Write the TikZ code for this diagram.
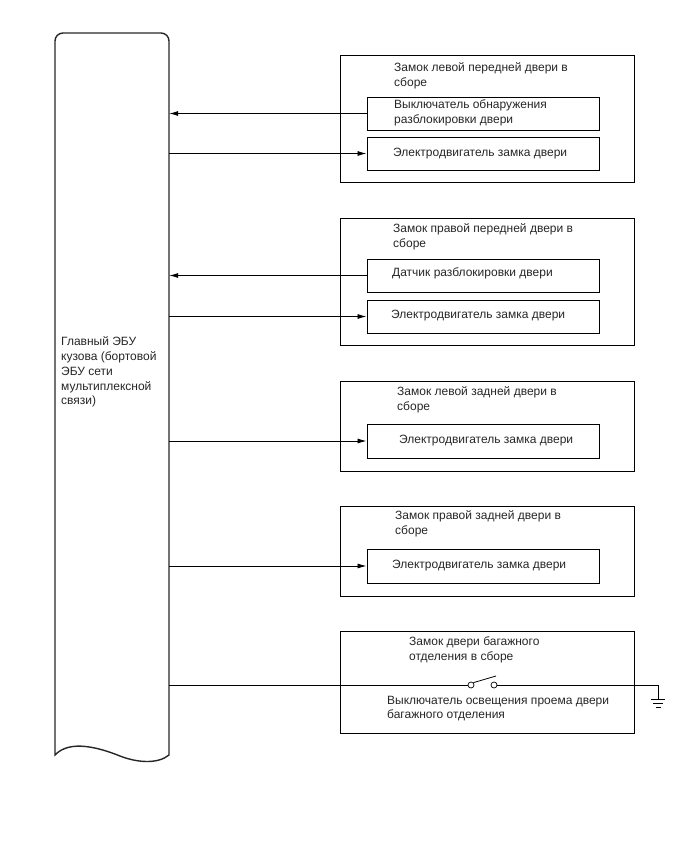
\documentclass[tikz,border=0pt]{standalone}
\usepackage{fontspec}
\setmainfont{Liberation Sans}
\usetikzlibrary{arrows.meta}
\tikzset{
	outerbox/.style={draw,line width=1pt,minimum width=294pt,inner sep=0pt},
	innerbox/.style={draw,line width=1pt,minimum width=232pt,inner sep=0pt},
	label/.style={anchor=west,align=left,inner sep=0pt,font=\fontsize{12}{14.8}\selectfont,text=black!85},
	signal/.style={line width=0.8pt,-{Latex[length=9pt,width=5pt]}},
	wire/.style={line width=0.8pt},
	contact/.style={draw,circle,line width=0.7pt,minimum size=6pt,inner sep=0pt}
}
\begin{document}
\begin{tikzpicture}[x=1pt,y=-1pt]
	\useasboundingbox (0,0) rectangle (688,852);
	
	% Draw main unit
	\node[minimum width=114pt,minimum height=722pt,inner sep=0pt] (ecu) at (112,394) {};
	\draw[line width=1.4pt,black!85,rounded corners=8pt] (55,755) -- (55,33) -- (169,33)
		-- (169,60) [sharp corners] -- (169,755)
		.. controls (158,764) and (138,763) .. (120,756)
		.. controls (100,748) and (70,739) .. cycle;
	\node[label] (ecutext) at (61,372) {Главный ЭБУ\\кузова (бортовой\\ЭБУ сети\\мультиплексной\\связи)};
	
	% Draw outer boxes
	\node[outerbox,minimum height=127pt] (lf) at (487,118.5) {};
	\node[outerbox,minimum height=127pt] (rf) at (487,281.5) {};
	\node[outerbox,minimum height=90pt] (lr) at (487,426) {};
	\node[outerbox,minimum height=90pt] (rr) at (487,551) {};
	\node[outerbox,minimum height=102pt] (bd) at (487,682) {};
	
	% Draw inner boxes
	\node[innerbox,minimum height=33pt] (lfsw) at (483,113.5) {};
	\node[innerbox,minimum height=33pt] (lfmot) at (483,153.5) {};
	\node[innerbox,minimum height=33pt] (rfsw) at (483,275.5) {};
	\node[innerbox,minimum height=33pt] (rfmot) at (483,316.5) {};
	\node[innerbox,minimum height=34pt] (lrmot) at (483,441) {};
	\node[innerbox,minimum height=34pt] (rrmot) at (483,566) {};
	
	% Box titles
	\node[label] (lftitle) at (394,75.5) {Замок левой передней двери в\\сборе};
	\node[label] (rftitle) at (393,236.5) {Замок правой передней двери в\\сборе};
	\node[label] (lrtitle) at (397,399.5) {Замок левой задней двери в\\сборе};
	\node[label] (rrtitle) at (395,524) {Замок правой задней двери в\\сборе};
	\node[label] (bdtitle) at (409,649.5) {Замок двери багажного\\отделения в сборе};
	
	% Inner labels
	\node[label] (lfswtext) at (394,113) {Выключатель обнаружения\\разблокировки двери};
	\node[label] (lfmottext) at (393,154) {Электродвигатель замка двери};
	\node[label] (rfswtext) at (392,273) {Датчик разблокировки двери};
	\node[label] (rfmottext) at (391,316) {Электродвигатель замка двери};
	\node[label] (lrmottext) at (399,441) {Электродвигатель замка двери};
	\node[label] (rrmottext) at (392,566) {Электродвигатель замка двери};
	\node[label] (bdswtext) at (387,708.5) {Выключатель освещения проема двери\\багажного отделения};
	
	% Draw signals
	\draw[signal] (lfsw.west) -- (lfsw.west -| ecu.east);
	\draw[signal] (lfmot.west -| ecu.east) -- (lfmot.west);
	\draw[signal] (rfsw.west) -- (rfsw.west -| ecu.east);
	\draw[signal] (rfmot.west -| ecu.east) -- (rfmot.west);
	\draw[signal] (lrmot.west -| ecu.east) -- (lrmot.west);
	\draw[signal] (rrmot.west -| ecu.east) -- (rrmot.west);
	
	% Draw switch and ground
	\node[contact] (swa) at (471,685) {};
	\node[contact] (swb) at (494,685) {};
	\coordinate (lever) at (496,676);
	\coordinate (gnd) at (658,685);
	\coordinate (gndtop) at (658,699);
	\draw[wire] (swa -| ecu.east) -- (swa.west);
	\draw[wire] (swa.north east) -- (lever);
	\draw[wire] (swb.east) -- (gnd) -- (gndtop);
	\draw[wire] (651,699) -- (665,699);
	\draw[wire] (653,703) -- (663,703);
	\draw[wire] (655.5,707) -- (660.5,707);
	
\end{tikzpicture}
\end{document}
